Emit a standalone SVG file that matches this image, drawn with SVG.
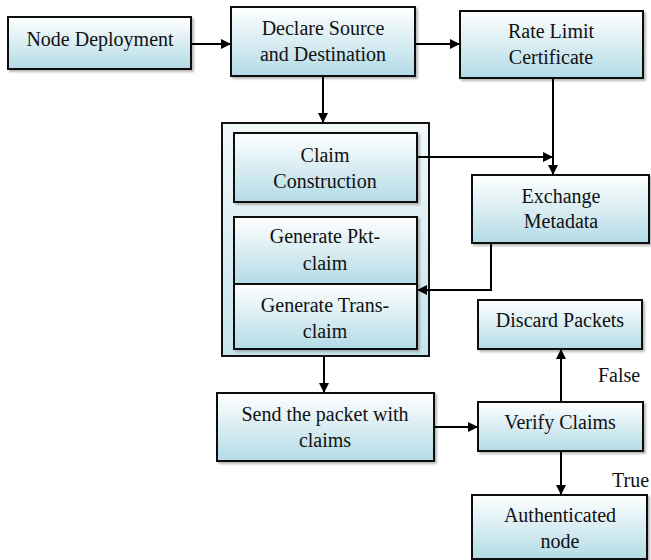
<svg xmlns="http://www.w3.org/2000/svg" width="651" height="560" viewBox="0 0 651 560">
<defs>
<linearGradient id="g" x1="0" y1="0" x2="0" y2="1">
<stop offset="0" stop-color="#ffffff"/>
<stop offset="1" stop-color="#b3dbe6"/>
</linearGradient>
<linearGradient id="gc" x1="0" y1="0" x2="0" y2="1">
<stop offset="0" stop-color="#f2f8fa"/>
<stop offset="1" stop-color="#c6e4ed"/>
</linearGradient>
<marker id="ah" markerWidth="10" markerHeight="10" refX="9" refY="5" orient="auto" markerUnits="userSpaceOnUse">
<path d="M0,0 L10,5 L0,10 z" fill="#000"/>
</marker>
<filter id="sh" x="-5%" y="-5%" width="115%" height="120%">
<feDropShadow dx="2" dy="2" stdDeviation="1" flood-color="#888" flood-opacity="0.6"/>
</filter>
</defs>
<style>
.b{fill:url(#g);stroke:#111;stroke-width:2;filter:url(#sh)}
.c{fill:url(#gc);stroke:#111;stroke-width:2}
text{font-family:"Liberation Serif","Times New Roman",serif;font-size:20px;fill:#111;text-anchor:middle}
.l{text-anchor:start}
.e{fill:none;stroke:#000;stroke-width:2}
</style>
<g id="container"><rect class="c" x="222" y="123" width="207" height="233"/></g>
<g id="n1"><rect class="b" x="8" y="17" width="183" height="52"/><text x="100" y="46">Node Deployment</text></g>
<g id="n2"><rect class="b" x="231" y="7" width="184" height="69"/><text x="323" y="35">Declare Source</text><text x="323" y="61">and Destination</text></g>
<g id="n3"><rect class="b" x="460" y="11" width="183" height="67"/><text x="551" y="38">Rate Limit</text><text x="551" y="64">Certificate</text></g>
<g id="n4"><rect class="b" x="234" y="133" width="183" height="69"/><text x="325" y="162">Claim</text><text x="325" y="188">Construction</text></g>
<g id="n5"><rect class="b" x="234" y="217" width="183" height="67"/><text x="325" y="243">Generate Pkt-</text><text x="325" y="270">claim</text></g>
<g id="n6"><rect class="b" x="234" y="284" width="183" height="65"/><text x="325" y="312">Generate Trans-</text><text x="325" y="338">claim</text></g>
<g id="n7"><rect class="b" x="472" y="175" width="177" height="68"/><text x="561" y="203">Exchange</text><text x="561" y="228">Metadata</text></g>
<g id="n8"><rect class="b" x="478" y="300" width="164" height="49"/><text x="560" y="327">Discard Packets</text></g>
<g id="n9"><rect class="b" x="217" y="393" width="217" height="68"/><text x="325" y="421">Send the packet with</text><text x="325" y="447">claims</text></g>
<g id="n10"><rect class="b" x="478" y="402" width="165" height="49"/><text x="560" y="429">Verify Claims</text></g>
<g id="n11"><rect class="b" x="472" y="495" width="175" height="64"/><text x="560" y="522">Authenticated</text><text x="560" y="548">node</text></g>
<g id="connectors">
<line class="e" x1="191" y1="44" x2="230" y2="44" marker-end="url(#ah)"/>
<line class="e" x1="415" y1="44" x2="459" y2="44" marker-end="url(#ah)"/>
<line class="e" x1="323" y1="76" x2="323" y2="122" marker-end="url(#ah)"/>
<line class="e" x1="553" y1="78" x2="553" y2="174" marker-end="url(#ah)"/>
<line class="e" x1="417" y1="157" x2="552" y2="157" marker-end="url(#ah)"/>
<polyline class="e" points="491,243 491,290 418,290" marker-end="url(#ah)"/>
<line class="e" x1="324" y1="356" x2="324" y2="392" marker-end="url(#ah)"/>
<line class="e" x1="434" y1="427" x2="477" y2="427" marker-end="url(#ah)"/>
<line class="e" x1="561" y1="402" x2="561" y2="350" marker-end="url(#ah)"/>
<line class="e" x1="561" y1="451" x2="561" y2="494" marker-end="url(#ah)"/>
<text class="l" x="598" y="382">False</text>
<text class="l" x="612" y="487">True</text>
</g>
</svg>
